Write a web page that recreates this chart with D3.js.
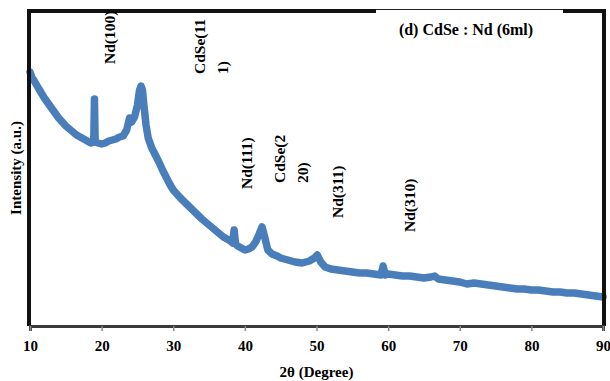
<!DOCTYPE html>
<html>
<head>
<meta charset="utf-8">
<script src="https://cdn.jsdelivr.net/npm/d3@7"></script>
<style>
  body { margin: 0; background: #fff; }
  svg text { font-family: "Times New Roman", "Liberation Serif", serif; font-weight: bold; fill: #000; }
</style>
</head>
<body>
<div id="chart"></div>
<script>
// 2theta (degree) readings of the XRD scan
const twoTheta = [
  10.0, 10.3, 10.6, 11.0, 11.5, 12.0, 12.5, 13.0, 13.5, 14.0, 14.5, 15.0, 15.5, 16.0, 16.5,
  17.0, 17.5, 18.0, 18.5, 18.9, 19.0, 19.1, 19.5, 20.0, 20.5, 21.0, 21.5, 22.0, 22.5, 23.0,
  23.5, 23.9, 24.2, 24.6, 25.0, 25.3, 25.5, 25.7, 25.9, 26.2, 26.5, 27.0, 27.5, 28.0, 28.5,
  29.0, 29.5, 30.0, 31.0, 32.0, 33.0, 34.0, 35.0, 36.0, 37.0, 38.0, 38.3, 38.5, 38.7, 39.0,
  39.5, 40.0, 40.5, 41.0, 41.5, 42.0, 42.4, 42.8, 43.2, 43.8, 44.5, 45.0, 46.0, 47.0, 48.0,
  49.0, 49.7, 50.1, 50.6, 51.2, 52.0, 53.0, 54.0, 55.0, 56.0, 57.0, 58.0, 59.0, 59.3, 59.6,
  60.0, 61.0, 62.0, 63.0, 64.0, 65.0, 66.0, 66.5, 67.0, 68.0, 69.0, 70.0, 71.0, 72.0, 73.0,
  74.0, 75.0, 76.0, 77.0, 78.0, 79.0, 80.0, 81.0, 82.0, 83.0, 84.0, 85.0, 86.0, 87.0, 88.0,
  89.0, 90.0
];

// intensity (a.u.) at each reading
const intensity = [
  253, 247, 244, 239, 233, 227, 222, 217, 212, 207, 203, 199, 196, 193, 190,
  188, 186, 184, 182, 183, 226, 183, 182, 181, 182, 184, 185, 186, 188, 189,
  195, 207, 203, 208, 220, 235, 239, 235, 220, 200, 187, 177, 170, 163, 155,
  148, 141, 135, 127, 120, 113, 106, 100, 94, 88, 84, 82, 95, 81, 79,
  77, 75, 76, 78, 83, 91, 98, 87, 75, 71, 69, 67, 65, 63, 62,
  64, 67, 70, 63, 58, 56, 55, 54, 53, 52, 52, 51, 50, 59, 50,
  51, 50, 49, 49, 48, 47, 48, 49, 46, 45, 44, 43, 41, 42, 41,
  40, 39, 38, 37, 36, 36, 35, 35, 34, 33, 33, 32, 32, 31, 30,
  29, 28
];

// peak annotations
const peakLabels = [
  { lines: ["Nd(100)"], at: 21.9, base: 64 },
  { lines: ["CdSe(11", "1)"], at: 34.5, base: 74 },
  { lines: ["Nd(111)"], at: 41.0, base: 189 },
  { lines: ["CdSe(2", "20)"], at: 45.6, base: 183 },
  { lines: ["Nd(311)"], at: 53.7, base: 218 },
  { lines: ["Nd(310)"], at: 63.7, base: 232 }
];

const xTicks = [10, 20, 30, 40, 50, 60, 70, 80, 90];
const sampleName = "(d) CdSe : Nd (6ml)";

const width = 610, height = 381;
const plotL = 30, plotR = 603, plotT = 11, plotB = 325;

const svg = d3.select('#chart')
  .append('svg')
  .attr('width', width)
  .attr('height', height);

const x = d3.scaleLinear().domain([10, 90]).range([plotL, plotR]);
const y = d3.scaleLinear().domain([0, 314]).range([plotB, plotT]);

// scan curve
const points = twoTheta.map((t, i) => [t, intensity[i]]);
const line = d3.line()
  .x(d => x(d[0]))
  .y(d => y(d[1]));

svg.append('path')
  .datum(points)
  .attr('fill', 'none')
  .attr('stroke', '#4a7ebb')
  .attr('stroke-width', 7.5)
  .attr('stroke-linejoin', 'round')
  .attr('stroke-linecap', 'round')
  .attr('d', line);

// frame: black left / top / right, grey bottom axis
svg.append('path')
  .attr('d', `M${plotL - 1},${plotB + 1} V${plotT} H${plotR + 1} V${plotB + 1}`)
  .attr('fill', 'none')
  .attr('stroke', '#111')
  .attr('stroke-width', 4);

// x axis
const xAxis = svg.append('g')
  .attr('transform', `translate(0,${plotB + 1})`)
  .call(d3.axisBottom(x).tickValues(xTicks).tickSize(5).tickPadding(9));
xAxis.select('.domain')
  .attr('stroke', '#3a3a3a')
  .attr('stroke-width', 3);
xAxis.selectAll('.tick line').attr('stroke', '#888').attr('stroke-width', 1.5);
xAxis.selectAll('.tick text')
  .attr('font-size', 15)
  .attr('font-family', '"Times New Roman", "Liberation Serif", serif')
  .attr('font-weight', 'bold')
  .attr('fill', '#000');

// axis titles
svg.append('text')
  .attr('x', (plotL + plotR) / 2)
  .attr('y', 377)
  .attr('text-anchor', 'middle')
  .attr('font-size', 15)
  .text('2θ (Degree)');

svg.append('text')
  .attr('transform', `translate(21,${(plotT + plotB) / 2}) rotate(-90)`)
  .attr('text-anchor', 'middle')
  .attr('font-size', 15)
  .text('Intensity (a.u.)');

// sample legend box sits over the top border
svg.append('rect')
  .attr('x', 376).attr('y', 9)
  .attr('width', 187).attr('height', 36)
  .attr('fill', '#fff');
svg.append('line')
  .attr('x1', 376).attr('x2', 563)
  .attr('y1', 9.5).attr('y2', 9.5)
  .attr('stroke', '#222')
  .attr('stroke-width', 1);
svg.append('text')
  .attr('x', 466)
  .attr('y', 35)
  .attr('text-anchor', 'middle')
  .attr('font-size', 16)
  .text(sampleName);

// peak labels, vertical
const lbl = svg.selectAll('.peak')
  .data(peakLabels)
  .enter()
  .append('text')
  .attr('class', 'peak')
  .attr('font-size', 15.5)
  .attr('transform', d => `translate(${x(d.at)},${d.base}) rotate(-90)`);

lbl.selectAll('tspan')
  .data(d => d.lines)
  .enter()
  .append('tspan')
  .attr('x', 0)
  .attr('y', (d, i) => i * 23)
  .text(d => d);
</script>
</body>
</html>
